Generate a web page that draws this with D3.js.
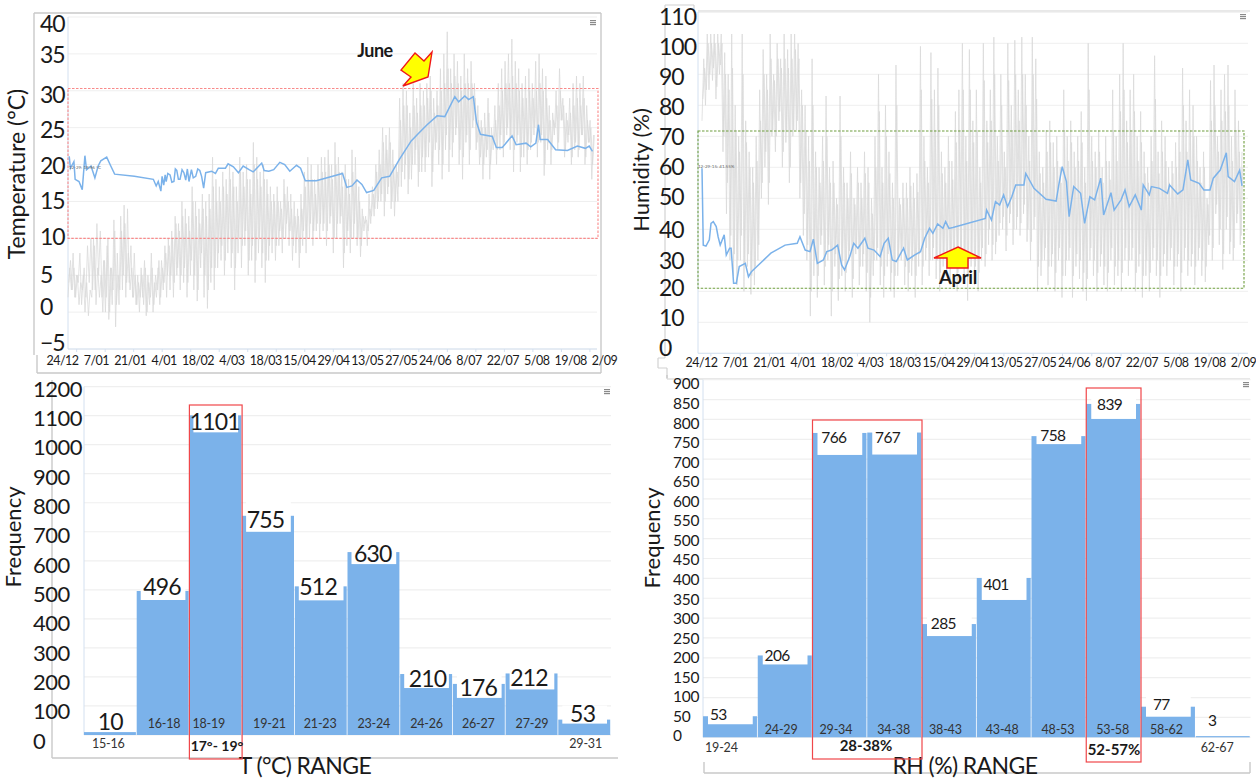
<!DOCTYPE html>
<html><head><meta charset="utf-8">
<script src="https://cdn.jsdelivr.net/npm/d3@7"></script>
<style>
html,body{margin:0;padding:0;background:#fff;overflow:hidden}
svg{display:block}
text{font-family:Lato,"Open Sans",sans-serif;fill:#1a1a1a}
</style></head><body>
<svg id="c" width="1256" height="779"></svg>
<script>
// ---------- data ----------
const dateLabels = ["24/12","7/01","21/01","4/01","18/02","4/03","18/03","15/04","29/04","13/05","27/05","24/06","8/07","22/07","5/08","19/08","2/09"];
const tempTicks = [-5,0,5,10,15,20,25,30,35,40];
const rhTicks = [0,10,20,30,40,50,60,70,80,90,100,110];

const tempDays = [0.6,1.2,2.9,3.5,5.4,7,8.3,9.1,11.3,13.2,14.8,16.1,19,21,22.9,32.6,41.9,43.3,44.3,45.6,46.2,47,47.7,48.2,49,50.1,51,52,52.7,53.4,54.2,55,56,56.9,57.8,58.6,59.4,60.6,61.5,62.7,63.7,64.7,65.6,66.6,67.6,70.5,72.4,73.8,77.3,78.6,81.2,83.7,86,88.9,90.9,95.1,96.3,98.6,101,104,106.4,108.9,112.2,114.2,116.5,121.9,134.8,136.9,139.4,141.9,144.3,146.6,150.1,154,157.9,162.7,168.5,172.4,176.3,181.2,185,189.9,191.8,194.8,196.7,199,200.6,202.5,208.3,210.3,213.2,218,220,224.9,227.2,229.7,231,231.8,235.5,239.4,245.2,250.1,254,255.9,257.5];
const tempMean = [21.1,19.5,20.4,18,17.7,16.6,21.2,19.3,19.8,18.2,19.8,20.5,21,19.8,18.7,18.4,18,17.1,17.7,16.4,18.4,17.2,18.6,17.7,18.8,18.6,17.6,17.7,19.4,19.2,18,18,19.3,18.9,17.9,19.4,17.7,19.3,18.2,18.4,19.4,19.2,18.4,16.8,18.9,19.1,18.8,19.5,19.5,20.1,19.7,18.9,19.8,19.3,19,20.2,19.2,19.1,19.3,20.3,20,19.1,19.9,19.5,17.8,17.8,18.8,16.9,17.1,17.9,17.3,16.2,16.5,18.2,18.4,20.7,23.2,24.3,25.4,26.6,26.5,29.2,28.5,29.3,28.8,29.2,25.7,24.1,23.8,22.3,22.3,23.9,22.7,22.9,22.4,22.9,25.4,23.4,23.4,22,21.9,22.5,22.2,22.5,21.8];
const tempOutdoor = [
2,6,3,8,2,5,4,8,1,5,0,4,-0.5,3,2,10,3,12,5,11,2,7,0,9,-1,6,1,12.5,-2,8,
1,13,3,14.5,2,14,4,9,2,8,1,5,0,6,2,7,-0.5,5,1,8,0,4,2,6,1,7,3,9,2,10,
3,11,2,13,5,12,3,15,4,14,2,13,5,17,3,15,1.5,14,6,16,2,15,0.5,16,4,21,3,18,6,17,
7,19,5,18,8,20,6,19,3,17,8,21,6,19,9,20,5,18,7,23,4,21,8,19,6,20,4,18,7,17,
8,16,7,17,9,15,8,18,10,17,9,16,7,15,8,14,6,16,9,19,8,21,10,20,9,18,11,20,10,21,
11,21,9,22,12,20,8,23,10,21,12,19,6,20,9,18,8,22,10,21,9,17,7.5,14,11,13,9,16,12,17,
13,20,14,22,15,25,13,24,16,25,14,22,13,20,15,29,17,31,18,30,16,27,18,31,20,29,17,31,19,30,
19,31,21,32,17,29,22,30,20,33,18,35,22,38,19,33,21,35,24,34,20,32,18,35,23,33,20,34,25,31,
22,28,20,26,18,27,21,29,18,25,22,28,20,31,22,33,21,34,24,35,22,37,19,34,23,33,19,31,21,32,
20,33,22,31,24,34,21,35,23,33,18.5,32,22,28,20,27,24,30,22,33,26,29,21,27,23,29,20,31,22,32,
21,31,24,32,20,28,23,26,18,24];
const tempOutdoorB = [
4,7,3,6,2,5,1,4,3,6,2,9,4,10,3,9,1,6,2,5,0,7,2,10,0,6,3,11,1,5,
3,11,5,12,4,8,3,6,2,5,1,4,2,5,1,6,0,4,2,6,1,5,3,7,2,6,4,8,5,9,
5,10,4,12,6,11,5,13,6,12,4,11,7,15,5,13,3,12,8,14,5,13,3,14,6,17,6,15,8,15,
9,17,7,16,10,18,8,17,6,15,10,19,9,17,11,18,7,16,9,20,7,18,10,17,8,18,7,16,9,15,
10,15,9,15,11,14,10,16,12,15,11,14,9,13,10,13,8,14,11,17,10,18,12,18,11,16,12,18,12,19,
12,19,11,20,13,18,10,20,12,19,13,17,8,18,11,16,10,19,12,18,10,15,9,13,12,12.5,11,14,13,16,
14,19,15,20,16,23,15,22,17,23,15,20,15,19,17,26,19,28,20,28,18,25,20,28,22,27,19,28,21,28,
21,29,23,30,19,27,23,28,22,30,20,31,24,33,22,31,23,32,25,31,22,30,21,31,24,31,22,31,26,29,
23,26,21,25,20,25,22,27,20,24,23,26,22,28,24,30,23,31,25,31,24,32,22,31,24,30,21,29,23,29,
22,30,23,29,25,30,23,31,24,30,20,29,23,26,22,26,25,28,23,30,26,28,22,26,24,27,21,28,23,29,
22,28,24,29,21,26,23,25,20,24];

const rhDays = [0,0.6,1.9,3.5,4.3,5.4,6.8,7.7,8.7,10.6,11.6,13.2,13.9,15.1,16.4,17.8,20.7,22.2,23.6,32.9,39.7,45.5,46.8,49.3,51.6,53.2,55.1,58,59.6,61.9,64.8,66.7,68.1,70.6,72.5,74.5,77.8,79.3,82.2,85.1,87,89,90.9,92.8,96.3,98.1,101.5,104.4,106.4,108.7,110.3,112.6,115.1,116.4,118,119.9,135.4,136,138.3,140.2,142.2,144.1,146,148,149.9,153.8,154.7,158.6,164.4,169.2,170.6,172.1,174.1,175.4,177.6,180.9,182.8,185.3,187.6,190.5,191.9,195.4,196.9,200.2,202.1,204.1,207,209.9,210.8,213.7,214.7,218.6,222.4,223.4,227.3,229.8,232.1,233.5,237.5,239.8,242.7,244.3,247.6,250.5,251.4,254.4,256.9,258];
const rhMean = [59.7,34.9,34.6,36.6,41.9,42.5,40.9,37.6,34.9,38.2,31.7,33.9,33.9,22.6,22.6,28,29,24.7,26.3,32.3,34.9,35.5,37.6,33.3,32.8,36.8,29,30.1,32.8,33.3,34.9,28.5,26.9,31.2,35.5,33.9,37.1,33.9,33.3,31.2,35.5,37.1,30.1,29.6,33.9,30.1,31.7,32.8,37.1,40.3,38.7,41.7,40.3,42.5,40.3,40.6,43.5,46.2,43,48.9,47.8,51.1,47.3,50.5,54.3,54.3,58,53.2,49.7,49.1,54.8,60.2,55.4,44.1,53.8,51.6,41.9,50.5,49.5,56.5,44.6,51.8,46.2,49.5,52.7,47.3,51.1,46.2,54.3,51.1,53.8,53.2,51.6,54.3,51.4,52.7,62.4,55.9,54.8,52.7,52.7,56.5,59.1,64.7,57,55.4,59.1,54];
const rhOutdoor = [
75,95,80,103,85,103,88,103,82,103,90,103,65,97,45,90,30,103,25,80,22,70,30,103,20,75,28,65,19,60,
22,70,30,85,50,98,60,90,48,103,70,90,65,100,75,95,60,103,68,98,55,103,70,103,72,100,50,85,38,80,
30,70,12,95,25,65,18,60,35,70,22,83,30,60,12,62,28,50,17,83,25,60,20,55,30,65,18,50,32,60,
22,55,28,65,20,60,10,50,25,70,30,90,22,60,18,80,28,65,20,55,18,93,25,50,30,55,22,55,20,60,
25,55,18,58,28,99,22,70,30,60,25,97,30,85,24,92,20,65,28,60,25,70,22,62,28,78,20,85,30,100,
24,70,17,98,28,75,22,85,20,60,30,100,28,75,35,85,30,102,32,70,38,90,40,65,33,100,42,80,35,101,
40,85,38,102,45,90,36,70,30,102,40,95,20,65,25,60,30,72,22,75,28,68,20,70,30,60,18,85,25,70,
30,75,18,65,28,70,24,78,20,60,17,100,30,70,25,65,20,72,28,60,22,70,20,62,30,85,22,70,25,90,
20,100,30,75,25,85,30,90,20,70,28,78,18,65,25,60,20,70,30,96,25,65,18,75,28,70,25,60,30,62,
22,68,28,72,20,92,30,75,25,85,28,80,22,70,30,60,25,65,23,50,35,88,30,93,45,70,35,85,27,90,
40,93,32,70,30,85,42,75,35,65];
const rhOutdoorB = [
82,92,85,100,90,100,92,100,86,100,93,100,70,90,55,85,38,92,32,72,30,65,38,90,28,68,32,60,25,55,
28,62,35,75,55,90,65,85,55,95,72,88,70,95,78,92,65,95,72,92,60,95,72,98,75,95,55,80,45,72,
35,62,20,80,30,60,25,55,38,62,28,70,35,55,20,55,32,48,24,70,30,55,26,50,33,58,24,48,35,55,
28,50,32,58,26,55,18,45,30,60,34,78,28,55,25,70,32,58,26,50,25,80,30,48,34,50,28,50,26,54,
30,50,25,52,32,85,28,62,34,55,30,82,34,72,30,80,26,58,32,55,30,62,28,56,32,68,26,72,34,85,
30,62,25,85,32,68,28,72,26,55,34,88,32,68,40,75,35,90,36,62,42,80,44,60,38,88,45,72,40,90,
44,75,42,90,48,80,40,62,36,90,44,82,28,58,30,55,34,65,28,68,32,60,26,62,34,55,25,72,30,62,
34,68,25,60,32,62,30,68,26,55,24,85,34,62,30,60,26,65,32,55,28,62,26,56,34,72,28,62,30,78,
26,85,34,68,30,72,34,78,26,62,32,68,25,58,30,55,26,62,34,82,30,58,25,65,32,62,30,55,34,58,
28,60,32,65,26,80,34,65,30,72,32,70,28,62,34,55,30,60,28,48,38,75,34,80,48,65,40,75,32,78,
44,80,36,62,34,72,45,65,38,60];

const tempRanges = ["15-16","16-18","18-19","19-21","21-23","23-24","24-26","26-27","27-29","29-31"];
const tempFreq = [10,496,1101,755,512,630,210,176,212,53];
const tempFreqTicks = d3.range(0,1300,100);
const rhRanges = ["19-24","24-29","29-34","34-38","38-43","43-48","48-53","53-58","58-62","62-67"];
const rhFreq = [53,206,766,767,285,401,758,839,77,3];
const rhFreqTicks = d3.range(0,950,50);

const tempComfort = [10,30.3];
const rhComfort = [21,71.7];

// ---------- style ----------
const BLUE="#7bb2ea", GRID="#efefef", FRAME="#c9c9c9", AXIS="#d3e0f0";
const svg=d3.select("#c");

function lines(points,stroke,w){
  const p=d3.path();points.forEach((q,i)=>{p.moveTo(q[0],q[1]);p.lineTo(q[2],q[3]);});
  svg.append("path").attr("d",p.toString()).attr("fill","none").attr("stroke",stroke).attr("stroke-width",w||1.5);
}
function menu(x,y){
  svg.append("g").selectAll("rect").data([0,2,4]).join("rect")
   .attr("x",x).attr("y",d=>y+d).attr("width",6).attr("height",1.2).attr("fill","#8a8a8a");
}

function timeChart(o){
  const x=d3.scaleLinear().domain([0,258]).range(o.xr);
  const y=d3.scaleLinear().domain(o.yd).range(o.yr);
  const yl=d3.scaleLinear().domain(o.yd).range(o.ylr);
  const xl=d3.scalePoint().domain(dateLabels).range(o.xlr);

  svg.append("g").selectAll("line").data(o.ticks).join("line")
    .attr("x1",o.pl).attr("x2",o.pr).attr("y1",y).attr("y2",y).attr("stroke",GRID);
  svg.append("line").attr("x1",o.pl).attr("x2",o.pl).attr("y1",o.pt).attr("y2",y(o.yd[0])).attr("stroke",AXIS);
  svg.append("line").attr("x1",o.pl).attr("x2",o.pr).attr("y1",y(o.yd[0])).attr("y2",y(o.yd[0])).attr("stroke",AXIS);

  const ax=svg.append("g").attr("transform",`translate(0,${y(o.yd[0])})`)
    .call(d3.axisBottom(x).tickValues(d3.range(4,258,14)).tickSize(3).tickFormat(""));
  ax.select(".domain").remove();ax.selectAll("line").attr("stroke",AXIS);

  [[o.outdoor,0],[o.outdoorB,0.4]].forEach(([s,off])=>{
    const grey=d3.line().x((d,i)=>x(i*258/(s.length-1)+off)).y(d=>y(d));
    svg.append("path").attr("d",grey(s)).attr("fill","none").attr("stroke","#d9d9d9").attr("stroke-width",0.9).attr("stroke-opacity",.85);
  });

  svg.append("rect").attr("x",o.pl).attr("width",o.bandR-o.pl)
    .attr("y",y(o.band[1])).attr("height",y(o.band[0])-y(o.band[1]))
    .attr("fill","none").attr("stroke",o.bandColor).attr("stroke-width",1.1).attr("stroke-dasharray","2.5 1.5");

  const ml=d3.line().x((d,i)=>x(o.days[i])).y(d=>y(d));
  svg.append("path").attr("d",ml(o.mean)).attr("fill","none").attr("stroke",BLUE).attr("stroke-width",1.5);

  const ya=svg.append("g").call(d3.axisRight(yl).tickValues(o.ticks).tickSize(0).tickFormat(d3.format("d")))
    .attr("transform",`translate(${o.ylx},0)`);
  ya.select(".domain").remove();
  ya.selectAll("text").attr("x",0).attr("dy",d=>(0.32*23+(o.nudge[d]||0))+"px").attr("text-anchor","start")
    .style("font-size","23px").style("letter-spacing","-1px").style("font-family","Lato").attr("fill","#1a1a1a");

  const xa=svg.append("g").attr("transform",`translate(0,${o.xly})`).call(d3.axisBottom(xl).tickSize(0));
  xa.select(".domain").remove();
  xa.selectAll("text").attr("y",0).attr("dy","0.35em").style("font-size","12.5px").style("letter-spacing","-0.5px").style("font-family","Lato").attr("fill","#222");

  svg.append("text").attr("transform",`translate(${o.tx},${o.ty}) rotate(-90)`).attr("text-anchor","middle")
    .attr("dominant-baseline","middle").style("font-size",o.tfs+"px").text(o.title);
  svg.append("text").attr("x",o.tinyX).attr("y",o.tinyY).style("font-size","4.5px").style("fill","#666").text(o.tiny);
}

function histChart(o){
  const x=d3.scaleBand().domain(o.ranges).range(o.xr).paddingInner(0);
  const y=d3.scaleLinear().domain([0,o.ticks[o.ticks.length-1]]).range(o.yr);
  const yl=d3.scaleLinear().domain([0,o.ticks[o.ticks.length-1]]).range(o.ylr);

  svg.append("g").selectAll("line").data(o.ticks).join("line")
    .attr("x1",o.xr[0]).attr("x2",o.xr[1]).attr("y1",y).attr("y2",y).attr("stroke",GRID).attr("stroke-width",1.2);
  svg.append("line").attr("x1",o.xr[0]).attr("x2",o.xr[0]).attr("y1",o.yr[1]).attr("y2",o.yr[0]).attr("stroke",AXIS);

  svg.append("g").selectAll("rect").data(o.values).join("rect")
    .attr("x",(d,i)=>x(o.ranges[i])).attr("width",x.bandwidth()-0.8)
    .attr("y",d=>y(d)).attr("height",d=>o.yr[0]-y(d)).attr("fill",BLUE);

  // white label plates that bite into the bar tops
  svg.append("g").selectAll("rect").data(o.values).join("rect")
    .attr("x",(d,i)=>x(o.ranges[i])+o.inset).attr("width",x.bandwidth()-2*o.inset)
    .attr("y",(d,i)=>y(d)-o.plateUp)
    .attr("height",(d,i)=>o.plate[i]+o.plateUp).attr("fill","#fff")
    .attr("display",(d,i)=>o.plate[i]>0?null:"none");

  svg.append("g").selectAll("text").data(o.values).join("text")
    .attr("x",(d,i)=>x(o.ranges[i])+x.bandwidth()/2+o.vdx[i])
    .attr("y",(d,i)=>y(d)+o.vdy[i]).attr("text-anchor","middle").attr("dominant-baseline","central")
    .style("font-size",o.vfs+"px").style("letter-spacing",o.vls+"px").text(d=>d);

  svg.append("g").selectAll("text").data(o.ranges).join("text")
    .attr("x",(d,i)=>x(d)+x.bandwidth()/2+o.rdx[i])
    .attr("y",(d,i)=>o.rlow[i]?o.rYlow:o.rY).attr("text-anchor","middle").attr("dominant-baseline","central")
    .style("font-size","12.5px").style("letter-spacing","-0.2px").style("fill","#333").text(d=>d);

  const ya=svg.append("g").attr("transform",`translate(${o.ylx},0)`)
    .call(d3.axisRight(yl).tickValues(o.ticks).tickSize(0).tickFormat(d3.format("d")));
  ya.select(".domain").remove();
  ya.selectAll("text").attr("x",0).attr("text-anchor","start").style("font-size",o.tfs+"px").style("letter-spacing",o.tls+"px").style("font-family","Lato").attr("fill","#1a1a1a");

  svg.append("text").attr("transform",`translate(${o.tx},${o.ty}) rotate(-90)`).attr("text-anchor","middle")
    .attr("dominant-baseline","middle").style("font-size","22px").text("Frequency");
  svg.append("text").attr("x",o.xtx).attr("y",o.xty).attr("text-anchor","middle").attr("dominant-baseline","middle")
    .style("font-size","23px").style("letter-spacing","-0.6px").text(o.xtitle);

  o.boxes.forEach(b=>{
    svg.append("rect").attr("x",x(o.ranges[b.from])).attr("width",x(o.ranges[b.to])+x.bandwidth()-x(o.ranges[b.from]))
      .attr("y",b.top).attr("height",b.bottom-b.top).attr("fill","none").attr("stroke","#f0474a").attr("stroke-width",1.2);
    svg.append("text").attr("x",b.lx).attr("y",b.ly).attr("text-anchor","middle").attr("dominant-baseline","central")
      .style("font-size",b.fs+"px").style("font-weight","700").text(b.label);
  });
}

// ---------- frames ----------
lines([[34,13,601,13],[34,13,34,355],[601,13,601,373],[37,355,37,373],[37,373,601,373]],FRAME,1.4);
lines([[665,5,694,5],[665,5,665,358],[694,5,694,11],[698,11,1250,11],[658,358,665,358],[658,358,658,368],[658,368,667,368],[667,368,667,379],[667,379,1250,379]],"#d2d2d2",1.2);
lines([[52,380,52,758],[52,758,618,758]],FRAME,1.4);
lines([[667,375,667,378],[704,762,704,773],[704,773,1250,773],[1250,762,1250,773]],FRAME,1.4);
menu(590,20);menu(1240,14);menu(604,389);menu(1243,382);

// ---------- charts ----------
timeChart({xr:[68,593.5],yd:[-5,40],yr:[349,17],ylr:[343,24],xlr:[62,604],ticks:tempTicks,nudge:{35:-4,5:3,"-5":0},
  pl:68,pr:597,pt:17,bandR:598,band:tempComfort,bandColor:"#f98a8a",days:tempDays,mean:tempMean,outdoor:tempOutdoor,outdoorB:tempOutdoorB,
  ylx:40,xly:361,title:"Temperature (°C)",tfs:23,tx:19,ty:174,tiny:"12-29: 19.96 °C",tinyX:69,tinyY:169});
timeChart({xr:[702,1242],yd:[0,110],yr:[353.3,12.3],ylr:[348,17],xlr:[701,1243],ticks:rhTicks,nudge:{30:3,40:2},
  pl:698,pr:1248,pt:12,bandR:1244,band:rhComfort,bandColor:"#6f9e3f",days:rhDays,mean:rhMean,outdoor:rhOutdoor,outdoorB:rhOutdoorB,
  ylx:659,xly:363,title:"Humidity (%)",tfs:22,tx:643,ty:170,tiny:"12-29-15: 41.55%",tinyX:698,tinyY:168});

histChart({ranges:tempRanges,values:tempFreq,ticks:tempFreqTicks,xr:[84,611],yr:[735,386.6],ylr:[741,389],
  ylx:33,tfs:22,tls:-0.5,vfs:23,vls:-0.8,inset:4,plateUp:14,
  plate:[0,9,17,16,14,12,14,14,16,4],
  vdx:[0,-1,-1,-3,-3,-1,1,-1,-3,-2],vdy:[-11,-5,6,3,0,1,4,3,4,-7],
  rdx:[-2,1,-7,1,-1,0,0,-1,0,1],rlow:[1,0,0,0,0,0,0,0,0,1],rY:723,rYlow:743,
  tx:15,ty:537,xtitle:"T (°C) RANGE",xtx:305,xty:768,
  boxes:[{from:2,to:2,top:405,bottom:759,label:"17°- 19°",lx:217,ly:745,fs:14}]});
histChart({ranges:rhRanges,values:rhFreq,ticks:rhFreqTicks,xr:[703,1250.5],yr:[737.3,379.7],ylr:[736,384],
  ylx:673,tfs:15.5,tls:-0.2,vfs:15.5,vls:-0.6,inset:5,plateUp:12,
  plate:[8,9,22,22,12,22,8,15,10,0],
  vdx:[-12,-8,-6,-7,-6,-8,-6,-4,-7,-11],vdy:[-2,0,4,4,-1,6,-1,0,-3,-16],
  rdx:[-9,-4,-4,-1,-4,-2,-1,-1,-2,-6],rlow:[1,0,0,0,0,0,0,0,0,1],rY:729,rYlow:747,
  tx:654,ty:538,xtitle:"RH (%) RANGE",xtx:965,xty:768,
  boxes:[{from:2,to:3,top:420,bottom:759,label:"28-38%",lx:866,ly:745,fs:15},
         {from:7,to:7,top:388,bottom:762,label:"52-57%",lx:1114,ly:749,fs:15}]});

// ---------- annotations ----------
const junePts=[[403,86],[411,77],[401,70],[415,53],[424,61],[432,52],[428,77]];
const aprilPts=[[958,247],[981,258],[968,258],[968,268],[947,268],[947,258],[934,258]];
[junePts,aprilPts].forEach(p=>svg.append("polygon").attr("points",p.join(" ")).attr("fill","#ffff00").attr("stroke","#f01818").attr("stroke-width",1.4));
svg.append("text").attr("x",375).attr("y",50).attr("text-anchor","middle").attr("dominant-baseline","central").style("font-size","18px").style("font-weight","700").style("letter-spacing","-0.5px").text("June");
svg.append("text").attr("x",958).attr("y",277).attr("text-anchor","middle").attr("dominant-baseline","central").style("font-size","18.5px").style("font-weight","700").style("letter-spacing","-0.3px").text("April");
</script>
</body></html>
